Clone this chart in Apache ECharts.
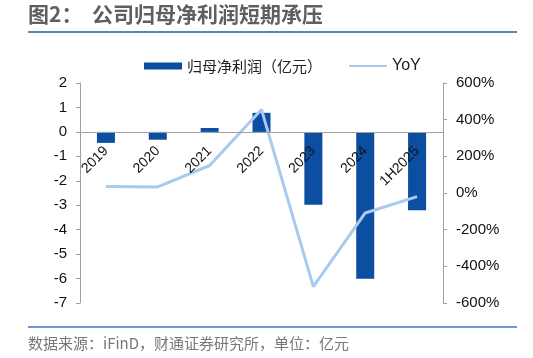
<!DOCTYPE html>
<html><head><meta charset="utf-8">
<script src="https://cdn.jsdelivr.net/npm/echarts@6/dist/echarts.min.js"></script>
<style>html,body{margin:0;padding:0;background:#fff}#c{width:533px;height:358px}</style>
</head><body><div id="c"></div>
<script>
var categories = ['2019','2020','2021','2022','2023','2024','1H2025'];
var profit = [-0.45, -0.32, 0.16, 0.78, -2.98, -6.01, -3.21];
var yoy = [35, 33, 150, 455, -511, -109, -20];
var leftTicks = {min: -7, max: 2, interval: 1};
var rightTicks = {min: -600, max: 600, interval: 200};

var gridTop = 83, gridBottom = 55, H = 358;
var plotH = H - gridTop - gridBottom;
// distance from grid bottom up to the zero of the left axis
var zeroOffset = -plotH * (0 - leftTicks.min) / (leftTicks.max - leftTicks.min);

var chart = echarts.init(document.getElementById('c'), null, {renderer: 'canvas'});
var cn = '"Noto Sans CJK SC", "Liberation Sans", sans-serif';
var latin = '"Liberation Sans", Arial, sans-serif';
chart.setOption({
  animation: false,
  backgroundColor: '#fff',
  grid: {left: 80, right: 90, top: gridTop, bottom: gridBottom, containLabel: false},
  legend: {
    top: 53, left: 139, itemGap: 26, itemWidth: 38, itemHeight: 7,
    textStyle: {fontFamily: cn, fontSize: 15, color: '#222'},
    data: [{name: '归母净利润（亿元）', icon: 'rect'}, {name: 'YoY', itemStyle: {opacity: 0}, textStyle: {fontFamily: latin, fontSize: 16}}]
  },
  xAxis: {
    type: 'category', data: categories, position: 'bottom', offset: zeroOffset, z: 10,
    axisLine: {onZero: false, lineStyle: {color: '#a0a0a0', width: 1}},
    axisTick: {show: false},
    axisLabel: {rotate: 45, fontFamily: latin, fontSize: 14, color: '#111', margin: 17, interval: 0}
  },
  yAxis: [{
    type: 'value', min: leftTicks.min, max: leftTicks.max, interval: leftTicks.interval,
    axisLine: {show: true, onZero: false, lineStyle: {color: '#a0a0a0'}},
    axisTick: {show: true, length: 4, lineStyle: {color: '#a0a0a0'}},
    splitLine: {show: false},
    axisLabel: {fontFamily: latin, fontSize: 15, color: '#111', margin: 13}
  }, {
    type: 'value', min: rightTicks.min, max: rightTicks.max, interval: rightTicks.interval,
    position: 'right',
    axisLine: {show: true, onZero: false, lineStyle: {color: '#a0a0a0'}},
    axisTick: {show: true, length: 4, lineStyle: {color: '#a0a0a0'}},
    splitLine: {show: false},
    axisLabel: {fontFamily: latin, fontSize: 15, color: '#111', margin: 13, formatter: '{value}%'}
  }],
  series: [{
    name: '归母净利润（亿元）', type: 'bar', data: profit, yAxisIndex: 0,
    barWidth: 18, itemStyle: {color: '#0b4ea2'}
  }, {
    name: 'YoY', type: 'line', data: yoy, yAxisIndex: 1, z: 3,
    symbol: 'none', lineStyle: {color: '#a9c9f0', width: 3}, itemStyle: {color: '#a9c9f0'}
  }],
  graphic: [
    {type: 'text', left: 28, top: 4, style: {text: '图2：  公司归母净利润短期承压', fontFamily: cn, fontSize: 21, fontWeight: 'bold', fill: '#5f5f5f'}},
    {type: 'line', shape: {x1: 28, y1: 32, x2: 517, y2: 32}, style: {stroke: '#1f5fad', lineWidth: 1.5}},
    {type: 'line', shape: {x1: 28, y1: 327, x2: 517, y2: 327}, style: {stroke: '#3a78c2', lineWidth: 1.5}},
    {type: 'text', left: 28, top: 336, style: {text: '数据来源：iFinD，财通证券研究所，单位：亿元', fontFamily: cn, fontSize: 15, fill: '#777'}}
  ]
});
</script></body></html>
